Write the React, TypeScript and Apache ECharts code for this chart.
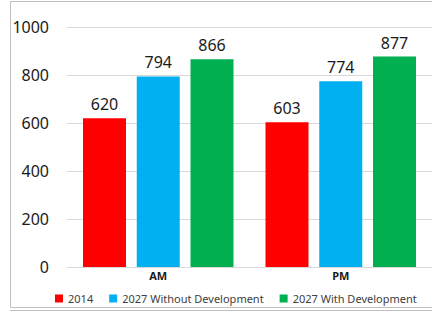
import React, { useEffect, useRef } from "react";
import * as echarts from "echarts";

const categories = ["AM", "PM"];
const seriesNames = ["2014", "2027 Without Development", "2027 With Development"];
const values2014 = [620, 603];
const valuesWithout = [794, 774];
const valuesWith = [866, 877];
const colors = ["#FF0000", "#00B0F0", "#00B050"];
const yTicks = [0, 200, 400, 600, 800, 1000];

export default function App() {
  const ref = useRef<HTMLDivElement>(null);
  useEffect(() => {
    if (!ref.current) return;
    const chart = echarts.init(ref.current, undefined, { renderer: "svg" });
    const data = [values2014, valuesWithout, valuesWith];
    chart.setOption({
      animation: false,
      textStyle: { fontFamily: "Noto Sans" },
      graphic: [
        {
          type: "rect",
          shape: { x: 10.5, y: 1.5, width: 440, height: 306 },
          style: { fill: "none", stroke: "#bfbfbf", lineWidth: 1 },
          silent: true,
        },
        {
          type: "line",
          shape: { x1: 10, y1: 310.5, x2: 432, y2: 310.5 },
          style: { stroke: "#bfbfbf", lineWidth: 1 },
          silent: true,
        },
      ],
      legend: {
        left: 50,
        top: 288,
        itemWidth: 8,
        itemHeight: 8,
        itemGap: 16,
        icon: "rect",
        textStyle: { fontSize: 11, color: "#404040", fontFamily: "Noto Sans" },
        data: seriesNames,
      },
      grid: { left: 67, top: 27, width: 366, height: 240 },
      xAxis: {
        type: "category",
        data: categories,
        axisLine: { show: true, lineStyle: { color: "#d9d9d9" } },
        axisTick: { show: false },
        axisLabel: { fontSize: 11, fontWeight: "bold", color: "#1a1a1a", margin: 3 },
      },
      yAxis: {
        type: "value",
        min: yTicks[0],
        max: yTicks[yTicks.length - 1],
        interval: 200,
        axisLine: { show: false },
        axisTick: { show: false },
        splitLine: { lineStyle: { color: "#d9d9d9" } },
        axisLabel: { fontSize: 16, color: "#1a1a1a", margin: 18, formatter: (v: number) => String(v) },
      },
      series: seriesNames.map((name, i) => ({
        name,
        type: "bar",
        data: data[i],
        barWidth: 43,
        barGap: "25%",
        itemStyle: { color: colors[i] },
        label: { show: true, position: "top", fontSize: 16, color: "#1a1a1a", distance: 6 },
      })),
    });
    return () => chart.dispose();
  }, []);
  return <div ref={ref} style={{ width: 432, height: 314, position: "absolute", left: 0, top: 0 }} />;
}
